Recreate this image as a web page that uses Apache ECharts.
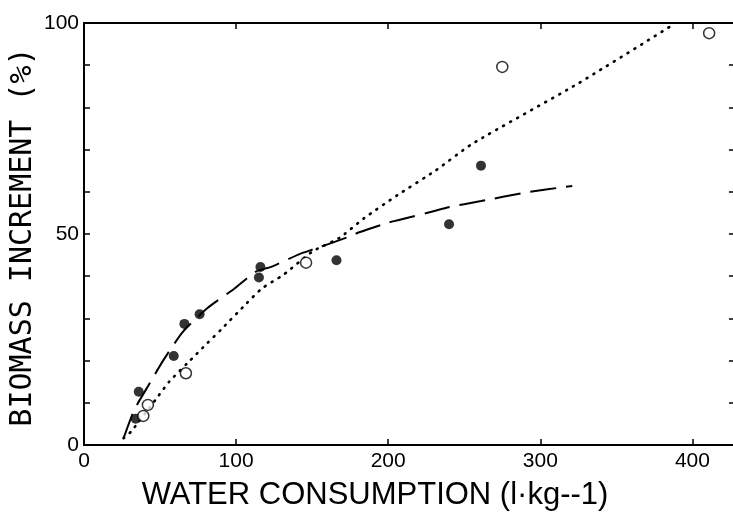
<!DOCTYPE html>
<html>
<head>
<meta charset="utf-8">
<script src="https://cdn.jsdelivr.net/npm/echarts@6/dist/echarts.min.js"></script>
<style>
  html, body { margin: 0; padding: 0; background: #fff; }
  #main { width: 733px; height: 524px; }
</style>
</head>
<body>
<div id="main"></div>
<script>
// filled circles
var filledX = [34, 36, 59, 66, 76, 115, 116, 166, 240, 261];
var filledY = [6.2, 12.6, 21.1, 28.7, 31.0, 39.7, 42.2, 43.8, 52.3, 66.2];
// open circles
var openX = [39, 42, 67, 146, 275, 411];
var openY = [6.9, 9.5, 17.0, 43.2, 89.6, 97.6];
// dashed fitted curve
var dashX = [26, 33, 43, 52, 65, 81, 99, 113, 123, 142, 151, 173, 181, 200, 207, 231, 239, 261, 290, 321];
var dashY = [1.6, 8.3, 14.5, 20.0, 26.8, 32.4, 37.1, 41.1, 42.2, 45.3, 46.4, 49.2, 50.4, 52.7, 53.3, 55.5, 56.3, 57.8, 59.8, 61.4];
// dotted fitted curve
var dotX = [26, 31, 47, 56, 68, 81, 90, 107, 117, 131, 150, 168, 184, 206, 231, 255, 325, 386];
var dotY = [1.6, 3.2, 10.7, 15.0, 19.4, 24.1, 27.3, 33.6, 37.1, 40.3, 45.8, 49.1, 53.7, 59.2, 65.0, 71.3, 85.7, 99.3];

var xTicks = [0, 100, 200, 300, 400];
var yTicks = [0, 50, 100];

function pairs(xs, ys) {
    var out = [];
    for (var i = 0; i < xs.length; i++) out.push([xs[i], ys[i]]);
    return out;
}

var myChart = echarts.init(document.getElementById('main'));

var axisLine = { show: true, onZero: false, lineStyle: { color: '#000', width: 2 } };
var tick = { show: true, inside: true, length: 6, lineStyle: { color: '#000', width: 1.5 } };
var labelFont = { color: '#000', fontSize: 21, fontFamily: 'Liberation Sans' };

option = {
    backgroundColor: '#fff',
    animation: false,
    grid: { left: 84, top: 23, width: 651, height: 422, outerBoundsMode: 'none' },
    xAxis: [
        {
            type: 'value', position: 'bottom', min: 0, max: 428, interval: 100,
            axisLine: axisLine,
            axisTick: tick,
            axisLabel: Object.assign({
                margin: 6,
                formatter: function (v) { return xTicks.indexOf(v) >= 0 ? String(v) : ''; }
            }, labelFont),
            splitLine: { show: false }
        },
        {
            type: 'value', position: 'top', min: 0, max: 428, interval: 100,
            axisLine: axisLine,
            axisTick: tick,
            axisLabel: { show: false },
            splitLine: { show: false }
        }
    ],
    yAxis: [
        {
            type: 'value', position: 'left', min: 0, max: 100, interval: 10,
            axisLine: axisLine,
            axisTick: tick,
            axisLabel: Object.assign({
                margin: 5,
                formatter: function (v) { return yTicks.indexOf(v) >= 0 ? String(v) : ''; }
            }, labelFont),
            splitLine: { show: false }
        },
        {
            type: 'value', position: 'right', min: 0, max: 100, interval: 10,
            axisLine: axisLine,
            axisTick: tick,
            axisLabel: { show: false },
            splitLine: { show: false }
        }
    ],
    graphic: [
        {
            type: 'text', x: 23, y: 237, rotation: Math.PI / 2,
            style: {
                text: 'BIOMASS INCREMENT (%)', fill: '#000',
                font: '30px "DejaVu Sans Mono"', align: 'center', verticalAlign: 'middle'
            }
        },
        {
            type: 'text', x: 375, y: 495,
            style: {
                text: 'WATER CONSUMPTION (l·kg--1)', fill: '#000',
                font: '31px "Liberation Sans"', align: 'center', verticalAlign: 'middle'
            }
        }
    ],
    series: [
        {
            type: 'line', data: pairs(dashX, dashY), smooth: 0.2, symbol: 'none',
            lineStyle: { color: '#000', width: 2, type: [26, 10] }, z: 2
        },
        {
            type: 'line', data: pairs(dotX, dotY), smooth: 0.2, symbol: 'none',
            lineStyle: { color: '#000', width: 2.6, type: [1, 7], cap: 'round' }, z: 2
        },
        {
            type: 'scatter', data: pairs(filledX, filledY), symbol: 'circle', symbolSize: 10,
            itemStyle: { color: '#000' }, z: 3
        },
        {
            type: 'scatter', data: pairs(openX, openY), symbol: 'circle', symbolSize: 11,
            itemStyle: { color: '#fff', borderColor: '#000', borderWidth: 1.5 }, z: 3
        }
    ]
};

myChart.setOption(option);
</script>
</body>
</html>
